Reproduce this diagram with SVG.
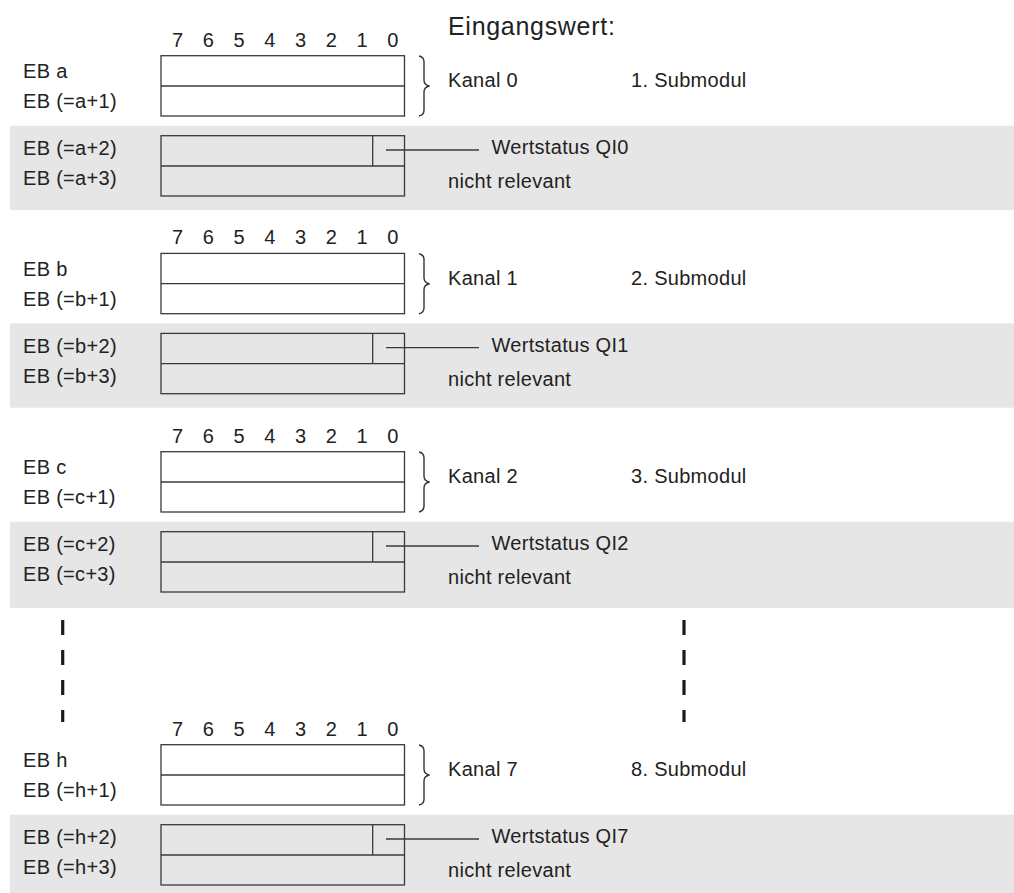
<svg xmlns="http://www.w3.org/2000/svg" width="1014" height="893" viewBox="0 0 1014 893">
<style>
text{font-family:"Liberation Sans",Arial,sans-serif;fill:#222}
.t{font-size:20px;letter-spacing:0.3px}
.d{font-size:20px;text-anchor:middle}
.h{font-size:25px;letter-spacing:0.7px}
.band{fill:#e6e6e6}
.box{fill:#fff;stroke:#3a3a3a;stroke-width:1.3}
.gbox{fill:none;stroke:#3a3a3a;stroke-width:1.3}
.ln{fill:none;stroke:#3a3a3a;stroke-width:1.3}
.br{fill:none;stroke:#333;stroke-width:1.4}
.dash{stroke:#1a1a1a;stroke-width:3.2}
</style>
<defs>
<g id="digits">
<text class="d" x="177.5" y="0">7</text>
<text class="d" x="208.3" y="0">6</text>
<text class="d" x="239" y="0">5</text>
<text class="d" x="269.8" y="0">4</text>
<text class="d" x="300.5" y="0">3</text>
<text class="d" x="331.3" y="0">2</text>
<text class="d" x="362" y="0">1</text>
<text class="d" x="392.8" y="0">0</text>
</g>
<path id="brace" d="M419 56 Q424 57 424 62 L424 80 Q424 85 429.5 86 Q424 87 424 92 L424 110 Q424 115 419 116"/>
</defs>

<text class="h" x="448" y="35">Eingangswert:</text>

<g id="section1">
<rect class="band" x="10" y="125.7" width="1004" height="84.3"/>
<use href="#digits" y="46.7"/>
<text class="t" x="23" y="78">EB a</text>
<text class="t" x="23" y="108">EB (=a+1)</text>
<text class="t" x="23" y="155">EB (=a+2)</text>
<text class="t" x="23" y="185">EB (=a+3)</text>
<rect class="box" x="161" y="55.7" width="243.5" height="60.3"/>
<line class="ln" x1="161" y1="86" x2="404.5" y2="86"/>
<rect class="gbox" x="161" y="135.7" width="243.5" height="60.3"/>
<line class="ln" x1="161" y1="166" x2="404.5" y2="166"/>
<line class="ln" x1="372.7" y1="135.7" x2="372.7" y2="166"/>
<use href="#brace" class="br"/>
<text class="t" x="448" y="87.3">Kanal 0</text>
<text class="t" x="631" y="87.3">1. Submodul</text>
<text class="t" x="491.5" y="154.3">Wertstatus QI0</text>
<text class="t" x="448" y="188">nicht relevant</text>
</g>

<g id="section2" transform="translate(0,197.7)">
<rect class="band" x="10" y="125.7" width="1004" height="84.3"/>
<use href="#digits" y="46.7"/>
<text class="t" x="23" y="78">EB b</text>
<text class="t" x="23" y="108">EB (=b+1)</text>
<text class="t" x="23" y="155">EB (=b+2)</text>
<text class="t" x="23" y="185">EB (=b+3)</text>
<rect class="box" x="161" y="55.7" width="243.5" height="60.3"/>
<line class="ln" x1="161" y1="86" x2="404.5" y2="86"/>
<rect class="gbox" x="161" y="135.7" width="243.5" height="60.3"/>
<line class="ln" x1="161" y1="166" x2="404.5" y2="166"/>
<line class="ln" x1="372.7" y1="135.7" x2="372.7" y2="166"/>
<use href="#brace" class="br"/>
<text class="t" x="448" y="87.3">Kanal 1</text>
<text class="t" x="631" y="87.3">2. Submodul</text>
<text class="t" x="491.5" y="154.3">Wertstatus QI1</text>
<text class="t" x="448" y="188">nicht relevant</text>
</g>

<g id="section3" transform="translate(0,396)">
<rect class="band" x="10" y="125.7" width="1004" height="86.3"/>
<use href="#digits" y="46.7"/>
<text class="t" x="23" y="78">EB c</text>
<text class="t" x="23" y="108">EB (=c+1)</text>
<text class="t" x="23" y="155">EB (=c+2)</text>
<text class="t" x="23" y="185">EB (=c+3)</text>
<rect class="box" x="161" y="55.7" width="243.5" height="60.3"/>
<line class="ln" x1="161" y1="86" x2="404.5" y2="86"/>
<rect class="gbox" x="161" y="135.7" width="243.5" height="60.3"/>
<line class="ln" x1="161" y1="166" x2="404.5" y2="166"/>
<line class="ln" x1="372.7" y1="135.7" x2="372.7" y2="166"/>
<use href="#brace" class="br"/>
<text class="t" x="448" y="87.3">Kanal 2</text>
<text class="t" x="631" y="87.3">3. Submodul</text>
<text class="t" x="491.5" y="154.3">Wertstatus QI2</text>
<text class="t" x="448" y="188">nicht relevant</text>
</g>

<g id="ellipsis">
<line class="dash" x1="62.7" y1="620" x2="62.7" y2="635"/>
<line class="dash" x1="62.7" y1="650" x2="62.7" y2="665"/>
<line class="dash" x1="62.7" y1="680" x2="62.7" y2="695"/>
<line class="dash" x1="62.7" y1="710" x2="62.7" y2="722"/>
<line class="dash" x1="684" y1="620" x2="684" y2="635"/>
<line class="dash" x1="684" y1="650" x2="684" y2="665"/>
<line class="dash" x1="684" y1="680" x2="684" y2="695"/>
<line class="dash" x1="684" y1="710" x2="684" y2="722"/>
</g>

<g id="section4" transform="translate(0,689)">
<rect class="band" x="10" y="125.7" width="1004" height="84.3"/>
<use href="#digits" y="46.7"/>
<text class="t" x="23" y="78">EB h</text>
<text class="t" x="23" y="108">EB (=h+1)</text>
<text class="t" x="23" y="155">EB (=h+2)</text>
<text class="t" x="23" y="185">EB (=h+3)</text>
<rect class="box" x="161" y="55.7" width="243.5" height="60.3"/>
<line class="ln" x1="161" y1="86" x2="404.5" y2="86"/>
<rect class="gbox" x="161" y="135.7" width="243.5" height="60.3"/>
<line class="ln" x1="161" y1="166" x2="404.5" y2="166"/>
<line class="ln" x1="372.7" y1="135.7" x2="372.7" y2="166"/>
<use href="#brace" class="br"/>
<text class="t" x="448" y="87.3">Kanal 7</text>
<text class="t" x="631" y="87.3">8. Submodul</text>
<text class="t" x="491.5" y="154.3">Wertstatus QI7</text>
<text class="t" x="448" y="188">nicht relevant</text>
</g>

<g id="connectors">
<line class="ln" x1="386" y1="150" x2="479" y2="150"/>
<line class="ln" x1="386" y1="347.7" x2="479" y2="347.7"/>
<line class="ln" x1="386" y1="546" x2="479" y2="546"/>
<line class="ln" x1="386" y1="839" x2="479" y2="839"/>
</g>
</svg>
